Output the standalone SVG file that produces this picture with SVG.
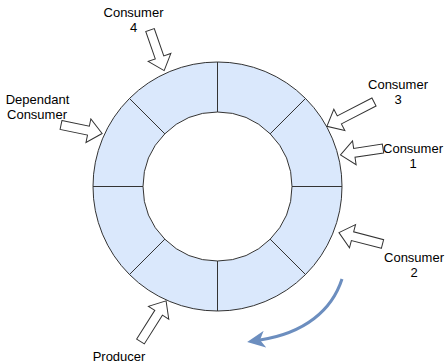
<svg xmlns="http://www.w3.org/2000/svg" width="445" height="364" viewBox="0 0 445 364">
<defs>
<style>
.seg{fill:#dae8fc;stroke:#333;stroke-width:1}
.blk{fill:#fff;stroke:#333;stroke-width:1;stroke-linejoin:miter}
.lbl{font-family:"Liberation Sans",Arial,sans-serif;font-size:13px;fill:#000;text-anchor:middle}
.flow{fill:none;stroke:#6c8ebf;stroke-width:3}
</style>
<marker id="ah" markerUnits="userSpaceOnUse" markerWidth="19" markerHeight="17" viewBox="0 0 19 17" refX="5" refY="8.5" orient="auto">
<path d="M0,0 L18,8.5 L0,17 L5,8.5 Z" fill="#6c8ebf"/>
</marker>
</defs>
<rect width="445" height="364" fill="#fff"/>
<g id="ring">
<g id="seg1"><path class="seg" d="M217.5,62 A124.5,124.5 0 0 1 305.53,98.47 L270.18,133.82 A74.5,74.5 0 0 0 217.5,112 Z"/></g>
<g id="seg2"><path class="seg" d="M305.53,98.47 A124.5,124.5 0 0 1 342,186.5 L292,186.5 A74.5,74.5 0 0 0 270.18,133.82 Z"/></g>
<g id="seg3"><path class="seg" d="M342,186.5 A124.5,124.5 0 0 1 305.53,274.53 L270.18,239.18 A74.5,74.5 0 0 0 292,186.5 Z"/></g>
<g id="seg4"><path class="seg" d="M305.53,274.53 A124.5,124.5 0 0 1 217.5,311 L217.5,261 A74.5,74.5 0 0 0 270.18,239.18 Z"/></g>
<g id="seg5"><path class="seg" d="M217.5,311 A124.5,124.5 0 0 1 129.47,274.53 L164.82,239.18 A74.5,74.5 0 0 0 217.5,261 Z"/></g>
<g id="seg6"><path class="seg" d="M129.47,274.53 A124.5,124.5 0 0 1 93,186.5 L143,186.5 A74.5,74.5 0 0 0 164.82,239.18 Z"/></g>
<g id="seg7"><path class="seg" d="M93,186.5 A124.5,124.5 0 0 1 129.47,98.47 L164.82,133.82 A74.5,74.5 0 0 0 143,186.5 Z"/></g>
<g id="seg8"><path class="seg" d="M129.47,98.47 A124.5,124.5 0 0 1 217.5,62 L217.5,112 A74.5,74.5 0 0 0 164.82,133.82 Z"/></g>
</g>
<g id="connectors">
<path class="blk" transform="translate(150,30) rotate(70.8)" d="M0,-4.5 L29,-4.5 L29,-12 L43,0 L29,12 L29,4.5 L0,4.5 Z"/>
<path class="blk" transform="translate(61,125) rotate(11.7)" d="M0,-4.5 L28,-4.5 L28,-12 L42,0 L28,12 L28,4.5 L0,4.5 Z"/>
<path class="blk" transform="translate(374,102) rotate(152.7)" d="M0,-4.5 L39,-4.5 L39,-12 L53,0 L39,12 L39,4.5 L0,4.5 Z"/>
<path class="blk" transform="translate(383,148.5) rotate(171.4)" d="M0,-4.5 L29,-4.5 L29,-12 L43,0 L29,12 L29,4.5 L0,4.5 Z"/>
<path class="blk" transform="translate(382.5,244) rotate(194.6)" d="M0,-4.5 L31,-4.5 L31,-12 L45,0 L31,12 L31,4.5 L0,4.5 Z"/>
<path class="blk" transform="translate(140.5,341.5) rotate(-57.8)" d="M0,-4.5 L34,-4.5 L34,-12 L48,0 L34,12 L34,4.5 L0,4.5 Z"/>
<path class="flow" d="M342,279 C332,310 305,333 260,340" marker-end="url(#ah)"/>
</g>
<g id="consumer4"><text class="lbl" x="133.5" y="17">Consumer</text><text class="lbl" x="133.5" y="32">4</text></g>
<g id="dependant"><text class="lbl" x="37.5" y="104">Dependant</text><text class="lbl" x="37" y="119">Consumer</text></g>
<g id="consumer3"><text class="lbl" x="398" y="89">Consumer</text><text class="lbl" x="398" y="104">3</text></g>
<g id="consumer1"><text class="lbl" x="413" y="153">Consumer</text><text class="lbl" x="413" y="168">1</text></g>
<g id="consumer2"><text class="lbl" x="414" y="262">Consumer</text><text class="lbl" x="414" y="277">2</text></g>
<g id="producer"><text class="lbl" x="119" y="361">Producer</text></g>
</svg>
